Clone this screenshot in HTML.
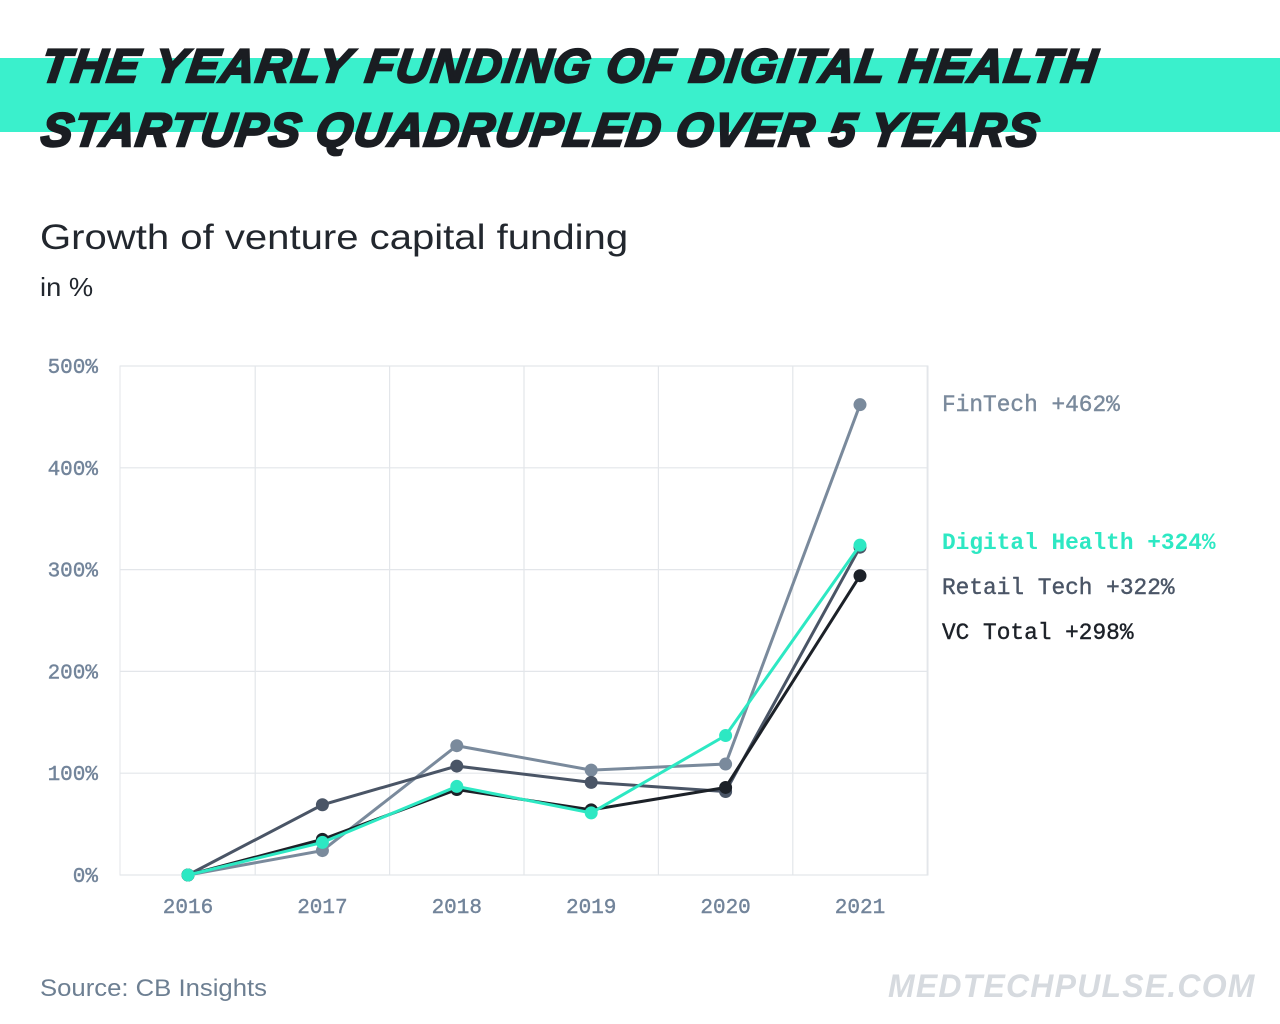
<!DOCTYPE html>
<html><head><meta charset="utf-8"><style>
body{margin:0;width:1280px;height:1024px;background:#fff;overflow:hidden;position:relative;font-family:"Liberation Sans",sans-serif}
.band{position:absolute;left:0;top:58px;width:1280px;height:74px;background:#3af0cc}
.t{position:absolute;left:42px;font-weight:bold;font-style:italic;font-size:47px;color:#1a1d22;white-space:nowrap;-webkit-text-stroke:2.5px #1a1d22;transform:skewX(-8deg);transform-origin:left}
.sub{position:absolute;left:40px;color:#22272e;white-space:nowrap;transform-origin:left}
</style></head><body>
<div class="band"></div>
<div class="t" style="top:38px;letter-spacing:1.7px">THE YEARLY FUNDING OF DIGITAL HEALTH</div>
<div class="t" style="top:102px;letter-spacing:1.4px">STARTUPS QUADRUPLED OVER 5 YEARS</div>
<div class="sub" style="top:218px;font-size:35px;transform:scaleX(1.145)">Growth of venture capital funding</div>
<div class="sub" style="top:272px;font-size:26px;transform:scaleX(1.05)">in %</div>
<div class="sub" style="top:975px;font-size:24px;color:#6d7f92;transform:scaleX(1.07)">Source: CB Insights</div>
<div style="position:absolute;left:888px;top:968px;font-size:32px;font-weight:bold;font-style:italic;color:#d6dadf;letter-spacing:1.2px;white-space:nowrap">MEDTECHPULSE.COM</div>
<svg id="chart" width="1280" height="1024" style="position:absolute;left:0;top:0"></svg>
<script>
const years=["2016","2017","2018","2019","2020","2021"];
const yTicks=[0,100,200,300,400,500];
const fintech=[0,24,127,103,109,462];
const retail=[0,69,107,91,82,322];
const vcTotal=[0,35,84,64,86,294];
const digital=[0,32,87,61,137,324];
const labels=["FinTech +462%","Digital Health +324%","Retail Tech +322%","VC Total +298%"];
const NS="http://www.w3.org/2000/svg",svg=document.getElementById('chart');
const x0=120,x1=928,yb=875,yt=366;
const xs=i=>188+i*(860-188)/(years.length-1);
const ys=v=>yb-(v/500)*(yb-yt);
function mk(t,a){const e=document.createElementNS(NS,t);for(const k in a)e.setAttribute(k,a[k]);svg.appendChild(e);return e;}
const bg=mk('rect',{x:x0,y:yt,width:x1-x0,height:yb-yt,fill:'none',stroke:'#e3e6ea'});


yTicks.forEach(v=>{
 const l=mk('line',{x1:x0,x2:x1,y1:ys(v),y2:ys(v),stroke:'#e3e6ea','stroke-width':1.2});
 
 
 const t=mk('text',{x:98,y:ys(v)+7,'text-anchor':'end','font-family':'Liberation Mono, monospace','font-size':21,fill:'#72849a','stroke':'#72849a','stroke-width':0.4});
 t.textContent=v+'%';
 
 
});
for(let i=0;i<years.length;i++){
 const gx=xs(i)+(xs(1)-xs(0))/2;
 const l=mk('line',{x1:gx,x2:gx,y1:yt,y2:yb,stroke:'#e3e6ea','stroke-width':1.2});
 
 
 const t=mk('text',{x:xs(i),y:913,'text-anchor':'middle','font-family':'Liberation Mono, monospace','font-size':21,fill:'#72849a','stroke':'#72849a','stroke-width':0.4});
 t.textContent=years[i];
 
 
}
const series=[[fintech,'#7a8a9c','fintech'],[retail,'#4a5566','retail-tech'],[vcTotal,'#1c2128','vc-total'],[digital,'#2de8c3','digital-health']];
series.forEach(([d,c,n])=>{
 const p=mk('polyline',{points:d.map((v,i)=>xs(i)+','+ys(v)).join(' '),fill:'none',stroke:c,'stroke-width':3});
 
 
 d.forEach((v,i)=>{const m=mk('circle',{cx:xs(i),cy:ys(v),r:6.5,fill:c});
  
  });
});
const lc=['#7a8a9c','#2de8c3','#4a5566','#1c2128'],ly=[411,549,594,639];
labels.forEach((s,i)=>{
 const t=mk('text',{x:942,y:ly[i],'font-family':'Liberation Mono, monospace','font-size':22.8,fill:lc[i],'font-weight':i==1?'bold':'normal','stroke':lc[i],'stroke-width':i==1?0:0.4});
 t.textContent=s;
 
 
});
</script>
</body></html>
